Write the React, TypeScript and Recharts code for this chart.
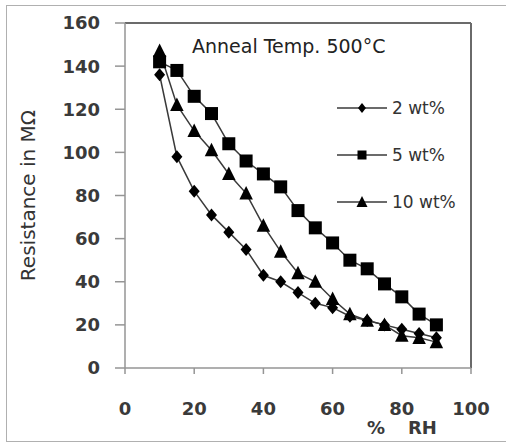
import React from 'react';
import { LineChart, Line, XAxis, YAxis, Legend, Label, ReferenceLine } from 'recharts';

const rh = [10, 15, 20, 25, 30, 35, 40, 45, 50, 55, 60, 65, 70, 75, 80, 85, 90];
const wt2 = [136, 98, 82, 71, 63, 55, 43, 40, 35, 30, 28, 24, 22, 20, 18, 16, 14];
const wt5 = [142, 138, 126, 118, 104, 96, 90, 84, 73, 65, 58, 50, 46, 39, 33, 25, 20];
const wt10 = [147, 122, 110, 101, 90, 81, 66, 54, 44, 40, 32, 25, 22, 20, 15, 14, 12];
const xTicks = [0, 20, 40, 60, 80, 100];
const yTicks = [0, 20, 40, 60, 80, 100, 120, 140, 160];
const seriesNames = ['2 wt%', '5 wt%', '10 wt%'];

const data = rh.map((x, i) => ({ rh: x, r2: wt2[i], r5: wt5[i], r10: wt10[i] }));

const FONT = '"DejaVu Sans", Verdana, sans-serif';
const LINE = '#3a3a3a';
const MARK = '#000';
const AXIS = '#959595';

const diamond = (cx: number, cy: number, w: number, h: number, key?: any) => (
  <polygon key={key} points={`${cx},${cy - h} ${cx + w},${cy} ${cx},${cy + h} ${cx - w},${cy}`} fill={MARK} />
);
const square = (cx: number, cy: number, s: number, key?: any) => (
  <rect key={key} x={cx - s / 2} y={cy - s / 2} width={s} height={s} fill={MARK} />
);
const triangle = (cx: number, cy: number, s: number, key?: any) => (
  <polygon key={key} points={`${cx},${cy - s * 0.55} ${cx + s / 2},${cy + s * 0.45} ${cx - s / 2},${cy + s * 0.45}`} fill={MARK} />
);

const DiamondDot = (p: any) => diamond(p.cx, p.cy, 5.5, 6.5, p.key ?? p.index);
const SquareDot = (p: any) => square(p.cx, p.cy, 13, p.key ?? p.index);
const TriangleDot = (p: any) => triangle(p.cx, p.cy, 13.5, p.key ?? p.index);

const legendMarkers = [
  (cx: number, cy: number) => diamond(cx, cy, 4, 5),
  (cx: number, cy: number) => square(cx, cy, 9),
  (cx: number, cy: number) => triangle(cx, cy, 11),
];

const LegendContent = () => (
  <div style={{ fontFamily: FONT, fontSize: 17, color: '#333' }}>
    {seriesNames.map((n, i) => (
      <div key={n} style={{ display: 'flex', alignItems: 'center', height: 47 }}>
        <svg width={52} height={20} style={{ display: 'block' }}>
          <line x1={0} y1={10} x2={50} y2={10} stroke={LINE} strokeWidth={1.5} />
          {legendMarkers[i](25, 10)}
        </svg>
        <span style={{ marginLeft: 3 }}>{n}</span>
      </div>
    ))}
  </div>
);

const tickStyle = { fill: '#3a3a3a', fontSize: 18, fontFamily: FONT, fontWeight: 'bold' as const };

export default function App() {
  return (
    <div style={{ position: 'absolute', left: 0, top: 0, width: 506, height: 443, background: '#fff', overflow: 'hidden' }}>
      <div style={{ position: 'absolute', left: 6, top: 5, width: 520, height: 437, border: '1px solid #b0b0b0', boxSizing: 'border-box' }} />
      <div style={{ position: 'absolute', left: 192, top: 35, fontFamily: FONT, fontSize: 19, color: '#222', whiteSpace: 'nowrap' }}>
        Anneal Temp. 500°C
      </div>
      <LineChart width={506} height={443} data={data} margin={{ top: 23, right: 35, bottom: 0, left: 0 }} style={{ position: 'absolute', left: 0, top: 0 }}>
        <XAxis
          dataKey="rh"
          type="number"
          domain={[0, 100]}
          ticks={xTicks}
          height={75}
          tickSize={6}
          tickMargin={28}
          axisLine={{ stroke: AXIS, strokeWidth: 1.5 }}
          tickLine={{ stroke: AXIS, strokeWidth: 1.5 }}
          tick={tickStyle}
        >
          <Label
            content={(props: any) => {
              const vb = props.viewBox;
              return (
                <text y={vb.y + 66} fontFamily={FONT} fontSize={18} fontWeight="bold" fill="#3a3a3a">
                  <tspan x={vb.x + 242}>%</tspan>
                  <tspan x={vb.x + 283}>RH</tspan>
                </text>
              );
            }}
          />
        </XAxis>
        <YAxis
          type="number"
          domain={[0, 160]}
          ticks={yTicks}
          width={125}
          tickSize={10}
          tickMargin={15}
          axisLine={{ stroke: AXIS, strokeWidth: 1.5 }}
          tickLine={{ stroke: AXIS, strokeWidth: 1.5 }}
          tick={tickStyle}
        >
          <Label
            content={(props: any) => {
              const vb = props.viewBox;
              const cx = 35;
              const cy = vb.y + vb.height / 2;
              return (
                <text x={cx} y={cy} transform={`rotate(-90 ${cx} ${cy})`} textAnchor="middle" fontFamily={FONT} fontSize={20} fill="#333">
                  Resistance in MΩ
                </text>
              );
            }}
          />
        </YAxis>
        <ReferenceLine y={160} stroke="#3a3a3a" strokeWidth={1.5} />
        <ReferenceLine x={100} stroke="#6a6a6a" strokeWidth={2} />
        <Legend
          content={<LegendContent />}
          layout="vertical"
          verticalAlign="middle"
          align="center"
          wrapperStyle={{ position: 'absolute', left: 337, top: 84, width: 160 }}
        />
        <Line dataKey="r2" name={seriesNames[0]} stroke={LINE} strokeWidth={1.5} dot={DiamondDot} activeDot={false} isAnimationActive={false} />
        <Line dataKey="r5" name={seriesNames[1]} stroke={LINE} strokeWidth={1.5} dot={SquareDot} activeDot={false} isAnimationActive={false} />
        <Line dataKey="r10" name={seriesNames[2]} stroke={LINE} strokeWidth={1.5} dot={TriangleDot} activeDot={false} isAnimationActive={false} />
      </LineChart>
    </div>
  );
}
